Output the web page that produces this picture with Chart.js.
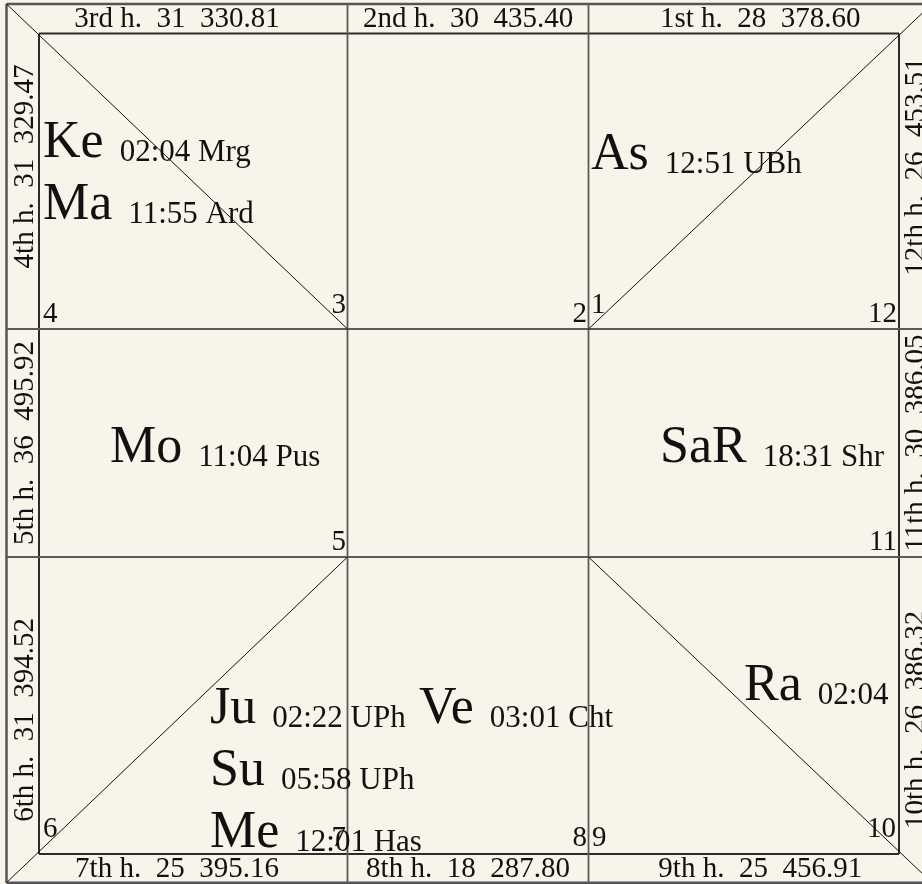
<!DOCTYPE html>
<html>
<head>
<meta charset="utf-8">
<script src="https://cdn.jsdelivr.net/npm/chart.js@4/dist/chart.umd.min.js"></script>
<style>
  html, body { margin: 0; padding: 0; background: #f8f4ea; overflow: hidden; }
  #wrap { width: 922px; height: 884px; position: relative; }
</style>
</head>
<body>
<div id="wrap"><canvas id="c"></canvas></div>
<script>
// ---------- DATA ----------
const houseNumbers   = [1, 2, 3, 4, 5, 6, 7, 8, 9, 10, 11, 12];
const houseOrdinals  = ['1st', '2nd', '3rd', '4th', '5th', '6th', '7th', '8th', '9th', '10th', '11th', '12th'];
const houseBindus    = [28, 30, 31, 31, 36, 31, 25, 18, 25, 26, 30, 26];
const houseStrengths = ['378.60', '435.40', '330.81', '329.47', '495.92', '394.52', '395.16', '287.80', '456.91', '386.32', '386.05', '453.51'];

const planetCodes      = ['As', 'Ke', 'Ma', 'Mo', 'Ju', 'Su', 'Me', 'Ve', 'Ra', 'SaR'];
const planetDegrees    = ['12:51', '02:04', '11:55', '11:04', '02:22', '05:58', '12:01', '03:01', '02:04', '18:31'];
const planetNakshatras = ['UBh', 'Mrg', 'Ard', 'Pus', 'UPh', 'UPh', 'Has', 'Cht', '', 'Shr'];
const planetHouses     = [1, 4, 4, 5, 7, 7, 7, 8, 10, 11];

// ---------- LAYOUT (geometry & style, not data) ----------
const W = 922, H = 884;
const OUT = { l: 6.5, t: 4, r: 932, b: 882.7 };
const INN = { l: 39, t: 33.5, r: 899, b: 854 };
const COLS = [347.5, 588.5];
const ROWS = [329, 557];

const FONT = "'Liberation Serif', 'Times New Roman', serif";
const BIG = 52, SMALL = 31, BAND = 29, NUM = 29;
const LINE_STEP = 62;

// where each house's planet list starts (x of first glyph, baseline of first line)
const houseTextAnchor = { 1: [591, 169], 4: [43, 157], 5: [110, 462], 7: [210, 723], 8: [419, 723], 10: [744, 700], 11: [660, 462] };
// house number placement [x, baseline, align]
const houseNumPos = {
  1: [591, 313, 'left'], 2: [587, 322, 'right'], 3: [346, 313, 'right'], 4: [43, 322, 'left'],
  5: [346, 550, 'right'], 6: [43, 837, 'left'], 7: [346, 846, 'right'], 8: [587, 846, 'right'],
  9: [592, 846, 'left'], 10: [896, 837, 'right'], 11: [897, 550, 'right'], 12: [897, 322, 'right']
};
// side of the margin band and segment index for each house label
const houseBand = { 3: ['top', 0], 2: ['top', 1], 1: ['top', 2], 4: ['left', 0], 5: ['left', 1], 6: ['left', 2],
                    7: ['bottom', 0], 8: ['bottom', 1], 9: ['bottom', 2], 12: ['right', 0], 11: ['right', 1], 10: ['right', 2] };

// ---------- line datasets ----------
function seg(a, b, color, width) {
  return { type: 'scatter', data: [a, b], showLine: true, borderColor: color, borderWidth: width,
           pointRadius: 0, fill: false, tension: 0, clip: false, borderCapStyle: 'butt' };
}
const P = (x, y) => ({ x, y });
const datasets = [];
// diagonals (thin, black)
const dia = '#111', dw = 1;
datasets.push(seg(P(OUT.l, OUT.t), P(COLS[0], ROWS[0]), dia, dw));           // top-left
datasets.push(seg(P(OUT.r, OUT.t), P(COLS[1], ROWS[0]), dia, dw));           // top-right
datasets.push(seg(P(OUT.l, OUT.b), P(COLS[0], ROWS[1]), dia, dw));           // bottom-left
datasets.push(seg(P(OUT.r, OUT.b), P(COLS[1], ROWS[1]), dia, dw));           // bottom-right
// cell dividers through the bands
const dv = '#5a5a5a', dvw = 1.8;
COLS.forEach(x => datasets.push(seg(P(x, OUT.t), P(x, OUT.b), dv, dvw)));
ROWS.forEach(y => datasets.push(seg(P(OUT.l, y), P(OUT.r, y), dv, dvw)));
// inner frame
const fr = '#2b2b2b', frw = 2;
datasets.push(seg(P(INN.l, INN.t), P(INN.r, INN.t), fr, frw));
datasets.push(seg(P(INN.l, INN.b), P(INN.r, INN.b), fr, frw));
datasets.push(seg(P(INN.l, INN.t), P(INN.l, INN.b), fr, frw));
datasets.push(seg(P(INN.r, INN.t), P(INN.r, INN.b), fr, frw));
// outer border
const ob = '#555', obw = 2.5;
datasets.push(seg(P(OUT.l, OUT.t), P(OUT.r, OUT.t), ob, obw));
datasets.push(seg(P(OUT.l, OUT.b), P(OUT.r, OUT.b), ob, obw));
datasets.push(seg(P(OUT.l, OUT.t), P(OUT.l, OUT.b), ob, obw));
datasets.push(seg(P(OUT.r, OUT.t), P(OUT.r, OUT.b), ob, obw));

// ---------- plugins ----------
const bgPlugin = {
  id: 'bg',
  beforeDraw(chart) {
    const ctx = chart.ctx;
    ctx.save();
    ctx.fillStyle = '#f8f4ea';
    ctx.fillRect(0, 0, chart.width, chart.height);
    ctx.restore();
  }
};

const textPlugin = {
  id: 'chartText',
  afterDatasetsDraw(chart) {
    const ctx = chart.ctx, sx = chart.scales.x, sy = chart.scales.y;
    const px = v => sx.getPixelForValue(v), py = v => sy.getPixelForValue(v);
    ctx.save();
    ctx.fillStyle = '#111';
    ctx.textBaseline = 'alphabetic';

    // band labels
    const hSegs = [[OUT.l, COLS[0]], [COLS[0], COLS[1]], [COLS[1], OUT.r]];
    const vSegs = [[OUT.t, ROWS[0]], [ROWS[0], ROWS[1]], [ROWS[1], OUT.b]];
    ctx.font = BAND + 'px ' + FONT;
    houseNumbers.forEach((h, i) => {
      const txt = houseOrdinals[i] + ' h.  ' + houseBindus[i] + '  ' + houseStrengths[i];
      const [side, k] = houseBand[h];
      ctx.textAlign = 'center';
      if (side === 'top' || side === 'bottom') {
        const cx = (hSegs[k][0] + hSegs[k][1]) / 2;
        const by = side === 'top' ? INN.t - 6.5 : OUT.b - 5.7;
        ctx.fillText(txt, px(cx), py(by));
      } else {
        const cy = (vSegs[k][0] + vSegs[k][1]) / 2;
        const bx = side === 'left' ? INN.l - 6 : INN.r + 25;
        ctx.save();
        ctx.translate(px(bx), py(cy));
        ctx.rotate(-Math.PI / 2);
        ctx.fillText(txt, 0, 0);
        ctx.restore();
      }
    });

    // house numbers
    ctx.font = NUM + 'px ' + FONT;
    houseNumbers.forEach(h => {
      const [x, y, al] = houseNumPos[h];
      ctx.textAlign = al;
      ctx.fillText(String(h), px(x), py(y));
    });

    // planets
    const lineIdx = {};
    ctx.textAlign = 'left';
    planetCodes.forEach((p, i) => {
      const h = planetHouses[i];
      const n = lineIdx[h] || 0; lineIdx[h] = n + 1;
      const [ax, ay] = houseTextAnchor[h];
      const x = px(ax), y = py(ay + n * LINE_STEP);
      ctx.font = BIG + 'px ' + FONT;
      const w = ctx.measureText(p + ' ').width + 3;
      ctx.fillText(p, x, y);
      ctx.font = SMALL + 'px ' + FONT;
      const small = planetDegrees[i] + (planetNakshatras[i] ? ' ' + planetNakshatras[i] : '');
      ctx.fillText(small, x + w, y + 4);
    });
    ctx.restore();
  }
};

new Chart(document.getElementById('c'), {
  type: 'scatter',
  data: { datasets },
  options: {
    responsive: true,
    maintainAspectRatio: false,
    animation: false,
    events: [],
    layout: { padding: 0 },
    plugins: { legend: { display: false }, tooltip: { enabled: false }, title: { display: false } },
    scales: {
      x: { type: 'linear', min: 0, max: W, display: false },
      y: { type: 'linear', min: 0, max: H, reverse: true, display: false }
    }
  },
  plugins: [bgPlugin, textPlugin]
});
</script>
</body>
</html>
